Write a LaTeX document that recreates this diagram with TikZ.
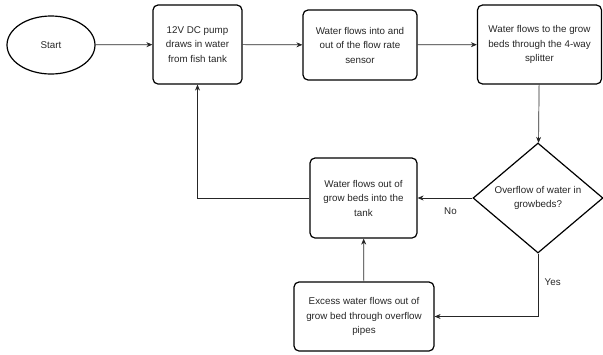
\documentclass[tikz,border=0pt]{standalone}
\usepackage{fontspec}
\setmainfont{Liberation Sans}
\usetikzlibrary{arrows.meta}
\usetikzlibrary{shapes.geometric}

\begin{document}
\begin{tikzpicture}[x=1pt, y=-1pt,
    every node/.style={font=\fontsize{9.8}{14.5}\selectfont, text=black!85},
    procbox/.style={draw, rounded corners=5pt, line width=1.2pt, align=center, inner sep=2pt},
    startnode/.style={draw, ellipse, line width=1.2pt, minimum width=88pt, minimum height=58pt},
    decision/.style={draw, diamond, line width=1.2pt, align=center, inner sep=0pt, aspect=1.2, minimum width=130pt, minimum height=110pt},
    flow/.style={-{Stealth[length=6pt, width=5pt]}, line width=0.7pt, black!85}]
          \useasboundingbox (0,0) rectangle (603,354);

          \node[startnode] (start) at (51,45) {Start};
          \node[procbox, minimum width=89pt, minimum height=79pt] (pump) at (197.5,44.5)
          {12V DC pump\\draws in water\\from fish tank};
          \node[procbox, minimum width=114pt, minimum height=70pt] (sensor) at (360,45)
          {Water flows into and\\out of the flow rate\\sensor};
          \node[procbox, minimum width=124pt, minimum height=79pt] (splitter) at (539.5,44.5)
          {Water flows to the grow\\beds through the 4-way\\splitter};
          \node[decision] (overflow) at (538,198)
          {Overflow of water in\\growbeds?};
          \node[procbox, minimum width=107pt, minimum height=80pt] (tank) at (363.5,198)
          {Water flows out of\\grow beds into the\\tank};
          \node[procbox, minimum width=140pt, minimum height=69pt] (excess) at (364,316.5)
          {Excess water flows out of\\grow bed through overflow\\pipes};

          \draw[flow] (start) -- (pump);
          \draw[flow] (pump) -- (sensor);
          \draw[flow] (sensor) -- (splitter);
          \draw[flow] (splitter) -- (overflow);
          \draw[flow] (overflow.west) -- node[pos=0.4, below=6pt] {No} (tank.east);
          \draw[flow] (overflow.south) |- node[pos=0.23, right=3pt] {Yes} (excess.east);
          \draw[flow] (excess) -- (tank);
          \draw[flow] (tank.west) -| (pump.south);

\end{tikzpicture}
\end{document}
